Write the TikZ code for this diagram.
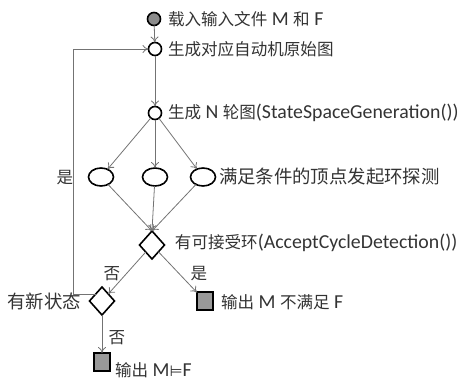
\documentclass[tikz,border=0pt]{standalone}
\usepackage{fontspec}
\setmainfont[Scale=1.1]{Carlito}
\newfontfamily\cjk[Scale=0.92]{Noto Sans CJK SC}
\newfontfamily\symf{DejaVu Sans}
\usetikzlibrary{shapes.geometric,arrows.meta}
\begin{document}
\begin{tikzpicture}[x=1pt,y=-1pt,
  every node/.style={inner sep=0pt,outer sep=0pt},
  startc/.style={circle,draw=black,line width=1.6pt,fill=black!45,minimum size=13pt},
  stepc/.style={circle,draw=black,line width=1.6pt,fill=white,minimum size=13pt},
  ell/.style={ellipse,draw=black,line width=1.6pt,fill=white,minimum width=25pt,minimum height=18pt},
  dia/.style={diamond,draw=black,line width=1.6pt,fill=white,minimum width=25pt,minimum height=28pt},
  outbox/.style={rectangle,draw=black,line width=1.2pt,fill=black!40,minimum width=16pt,minimum height=18pt},
  lbl/.style={text=black!80,font=\fontsize{18}{20}\selectfont},
  big/.style={font=\fontsize{20}{22}\selectfont},
  mid/.style={font=\fontsize{19}{21}\selectfont},
  arr/.style={draw=black!55,line width=0.8pt,-{To[length=6pt,width=8pt]}},
]
\useasboundingbox (0,0) rectangle (459,383);
\node[startc] (s) at (154,19) {};
\node[stepc] (a) at (155,49) {};
\node[stepc] (b) at (155,113) {};
\node[ell] (e1) at (101,177) {};
\node[ell] (e2) at (155,177) {};
\node[ell] (e3) at (203,177) {};
\node[dia] (d1) at (152,245) {};
\node[dia] (d2) at (102,301) {};
\node[outbox] (q1) at (205,301) {};
\node[outbox] (q2) at (102,362) {};

\node[lbl,anchor=west] (ts) at (168,19) {{\cjk 载入输入文件} M {\cjk 和} F};
\node[lbl,anchor=west] (ta) at (168,49) {\cjk 生成对应自动机原始图};
\node[lbl,anchor=west] (tb) at (168,113) {{\cjk 生成} N {\cjk 轮图}(StateSpaceGeneration())};
\node[lbl,big,anchor=west] (te) at (219,177) {\cjk 满足条件的顶点发起环探测};
\node[lbl,anchor=west] (td1) at (175,243) {{\cjk 有可接受环}(AcceptCycleDetection())};
\node[lbl,big,anchor=east] (td2) at (81,301) {\cjk 有新状态};
\node[lbl,anchor=west] (tq1) at (221,302) {{\cjk 输出} M {\cjk 不满足} F};
\node[lbl,anchor=west] (tq2) at (115,370) {{\cjk 输出} M{\symf\fontsize{15}{18}\selectfont ⊨}F};
\node[lbl] (yes1) at (65,178) {\cjk 是};
\node[lbl] (no1) at (112,274) {\cjk 否};
\node[lbl] (yes2) at (199,274) {\cjk 是};
\node[lbl] (no2) at (117,338) {\cjk 否};

\draw[arr] (s) -- (a);
\draw[arr] (a) -- (b);
\draw[arr] (b) -- (e1);
\draw[arr] (b) -- (e2);
\draw[arr] (b) -- (e3);
\draw[arr] (e1) -- (d1.north);
\draw[arr] (e2) -- (d1.north);
\draw[arr] (e3) -- (d1.north);
\draw[arr] (d1) -- (d2);
\draw[arr] (d1) -- (q1);
\draw[arr] (d2) -- (q2);
\draw[arr] (d2.north west) -- ++(-22,0) |- (a);
\end{tikzpicture}
\end{document}
